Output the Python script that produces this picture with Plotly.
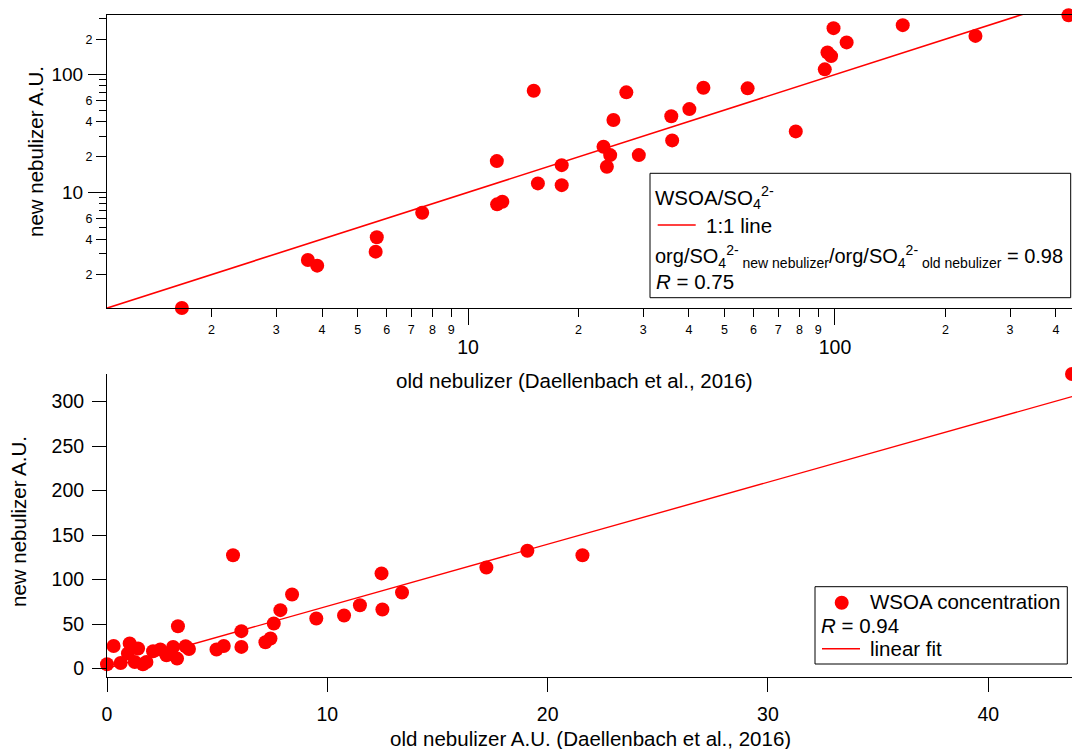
import plotly.graph_objects as go
import numpy as np

# ---------------- data ----------------
# top panel: WSOA/SO4 ratio, old vs new nebulizer (log-log)
ratio_old = [1.66, 3.66, 3.88, 5.64, 5.60, 7.50, 11.98, 12.0, 12.4, 15.1, 15.5, 18.0, 18.0,
             23.4, 24.4, 23.9, 24.9, 27.0, 29.2, 35.8, 36.0, 40.1, 43.8, 57.8, 78.2,
             93.8, 95.4, 97.6, 99.1, 107.6, 153, 241.5, 433]
ratio_new = [1.04, 2.66, 2.38, 4.15, 3.13, 6.71, 18.4, 7.9, 8.3, 72.9, 11.9, 17.0, 11.5,
             24.4, 20.7, 16.5, 41.1, 70.6, 20.7, 44.2, 27.6, 50.9, 77.2, 76.4, 32.9,
             110.7, 154, 143.5, 248, 187.6, 263, 213, 319]
one_to_one_x = [1, 1000]
one_to_one_slope = 1.0

# bottom panel: WSOA concentration
conc_old = [0.0, 0.30, 0.62, 1.03, 1.41, 0.95, 1.26, 1.63, 1.79, 2.09, 2.42, 2.70, 3.0,
            3.22, 3.18, 3.57, 3.72, 4.97, 5.30, 5.72, 6.10, 6.10, 7.19, 7.42, 7.57, 7.87,
            8.40, 9.50, 10.76, 11.48, 12.46, 12.5, 13.39, 17.22, 19.08, 21.58, 43.8]
conc_new = [4.8, 25.4, 6.3, 28.1, 22.5, 16.9, 7.4, 4.8, 7.4, 19.5, 21.4, 15.0, 24.3,
            47.6, 11.2, 25.1, 22.0, 21.4, 25.4, 127.4, 42.0, 24.3, 29.6, 33.7, 50.6, 65.6,
            83.2, 56.2, 59.6, 71.2, 106.9, 66.4, 85.5, 113.6, 132.3, 127.4, 331]
fit_slope = 6.97
fit_intercept = 0.3
fit_x = [0.0, 43.8]

# tick labels
top_x_ticks = [2, 3, 4, 5, 6, 7, 8, 9, 20, 30, 40, 50, 60, 70, 80, 90, 200, 300, 400]
top_x_major = [10, 100]
top_y_ticks = [2, 4, 6, 20, 40, 60, 200]
top_y_minor = [3, 5, 7, 8, 9, 30, 50, 70, 80, 90, 300]
top_y_major = [10, 100]

# ---------------- layout helpers ----------------
W, H = 1072, 749
ML, MR, MT, MB = 107, 0, 15, 72
PW, PH = W - ML - MR, H - MT - MB


def px(x):
    return (x - ML) / PW


def py(y):
    return (H - MB - y) / PH


FONT = "Liberation Sans, Arial, sans-serif"
RED = "#ff0000"

fig = go.Figure()

fig.add_trace(go.Scatter(x=ratio_old, y=ratio_new, mode="markers",
                         marker=dict(size=14, color=RED, line=dict(width=0)),
                         cliponaxis=False, xaxis="x", yaxis="y", showlegend=False))
fig.add_trace(go.Scatter(x=one_to_one_x, y=[v * one_to_one_slope for v in one_to_one_x],
                         mode="lines", line=dict(color=RED, width=1.6),
                         xaxis="x", yaxis="y", showlegend=False))
# anchors for overlay axes (long ticks / large labels at decades)
fig.add_trace(go.Scatter(x=[], y=[], xaxis="x3", yaxis="y", showlegend=False))
fig.add_trace(go.Scatter(x=[], y=[], xaxis="x", yaxis="y3", showlegend=False))

fig.add_trace(go.Scatter(x=conc_old, y=conc_new, mode="markers",
                         marker=dict(size=14, color=RED, line=dict(width=0)),
                         cliponaxis=False, xaxis="x2", yaxis="y2", showlegend=False))
fx = np.array(fit_x)
fig.add_trace(go.Scatter(x=fx, y=fit_intercept + fit_slope * fx, mode="lines",
                         line=dict(color=RED, width=1.4),
                         xaxis="x2", yaxis="y2", showlegend=False))

top_dom = [py(308), 1]
bot_dom = [0, py(374)]
xr_top = [0.016, 2.646]
yr_top = [0.017, 2.506]

common = dict(showgrid=False, zeroline=False, linecolor="black", linewidth=1,
              ticks="outside", tickcolor="black", tickwidth=1)

fig.update_layout(
    width=W, height=H,
    margin=dict(l=ML, r=MR, t=MT, b=MB),
    paper_bgcolor="white", plot_bgcolor="white",
    font=dict(family=FONT, color="black"),
    showlegend=False,
    xaxis=dict(common, type="log", range=xr_top, domain=[0, 1], anchor="y",
               showline=True, mirror=True,
               tickmode="array", tickvals=top_x_ticks,
               ticktext=[str(v)[0] for v in top_x_ticks],
               ticklen=8, tickfont=dict(size=12.5), ticklabelstandoff=2),
    xaxis3=dict(common, type="log", range=xr_top, overlaying="x", anchor="y", side="bottom",
                showline=False, tickmode="array", tickvals=top_x_major,
                ticktext=[str(v) for v in top_x_major],
                ticklen=16, tickfont=dict(size=19.5), ticklabelstandoff=6),
    yaxis=dict(common, type="log", range=yr_top, domain=top_dom, anchor="x",
               showline=True, mirror=True,
               tickmode="array", tickvals=top_y_ticks,
               ticktext=[str(v)[0] for v in top_y_ticks],
               ticklen=10, tickfont=dict(size=12.5), ticklabelstandoff=1,
               minor=dict(tickmode="array", tickvals=top_y_minor, ticklen=7,
                          ticks="outside", tickcolor="black", tickwidth=1, showgrid=False)),
    yaxis3=dict(common, type="log", range=yr_top, overlaying="y", anchor="x", side="left",
                showline=False, tickmode="array", tickvals=top_y_major,
                ticktext=[str(v) for v in top_y_major],
                ticklen=18, tickfont=dict(size=19), ticklabelstandoff=1),
    xaxis2=dict(common, range=[0, 43.8], domain=[0, 1], anchor="y2", showline=True,
                tickmode="linear", tick0=0, dtick=10, ticklen=14,
                tickfont=dict(size=19.5), ticklabelstandoff=6),
    yaxis2=dict(common, range=[-9.5, 331], domain=bot_dom, anchor="x2", showline=True,
                tickmode="linear", tick0=0, dtick=50, ticklen=14,
                tickfont=dict(size=19.5), ticklabelstandoff=4),
)

ann = []
TS = 20.5


def text(x, y, s, xanchor="left", size=TS, angle=0):
    ann.append(dict(x=px(x), y=py(y), xref="paper", yref="paper", text=s,
                    showarrow=False, xanchor=xanchor, yanchor="middle",
                    font=dict(size=size, family=FONT, color="black"), textangle=angle))


# axis titles
text(574, 381, "old nebulizer (Daellenbach et al., 2016)", "center")
text(590, 738, "old nebulizer A.U. (Daellenbach et al., 2016)", "center")
text(35, 152, "new nebulizer A.U.", "center", angle=-90)
text(18, 522, "new nebulizer A.U.", "center", angle=-90)

# top legend box
text(653, 197, "WSOA/SO<sub>4</sub><sup>2-</sup>")
text(704, 225, "1:1 line")
text(653, 256, "org/SO<sub>4</sub><sup>2-</sup><sub> new nebulizer</sub>/org/SO<sub>4</sub>"
               "<sup>2-</sup><sub> old nebulizer</sub> = 0.98", size=20)
text(654, 281, "<i>R</i> = 0.75")

# bottom legend box
text(868, 601, "WSOA concentration")
text(819, 625, "<i>R</i> = 0.94")
text(868, 648, "linear fit")

shapes = [
    dict(type="rect", xref="paper", yref="paper", x0=px(650), x1=px(1070.7),
         y0=py(297.7), y1=py(173.3), line=dict(color="black", width=1)),
    dict(type="line", xref="paper", yref="paper", x0=px(657.7), x1=px(695.7),
         y0=py(225), y1=py(225), line=dict(color=RED, width=1.4)),
    dict(type="rect", xref="paper", yref="paper", x0=px(815), x1=px(1067.3),
         y0=py(664), y1=py(586.7), line=dict(color="black", width=1)),
    dict(type="circle", xref="paper", yref="paper", xsizemode="pixel", ysizemode="pixel",
         xanchor=px(841.7), yanchor=py(602.7), x0=-7, x1=7, y0=-7, y1=7,
         fillcolor=RED, line=dict(width=0)),
    dict(type="line", xref="paper", yref="paper", x0=px(822), x1=px(860),
         y0=py(648.7), y1=py(648.7), line=dict(color=RED, width=1.4)),
]

fig.update_layout(annotations=ann, shapes=shapes)
fig.write_html("out.html")
